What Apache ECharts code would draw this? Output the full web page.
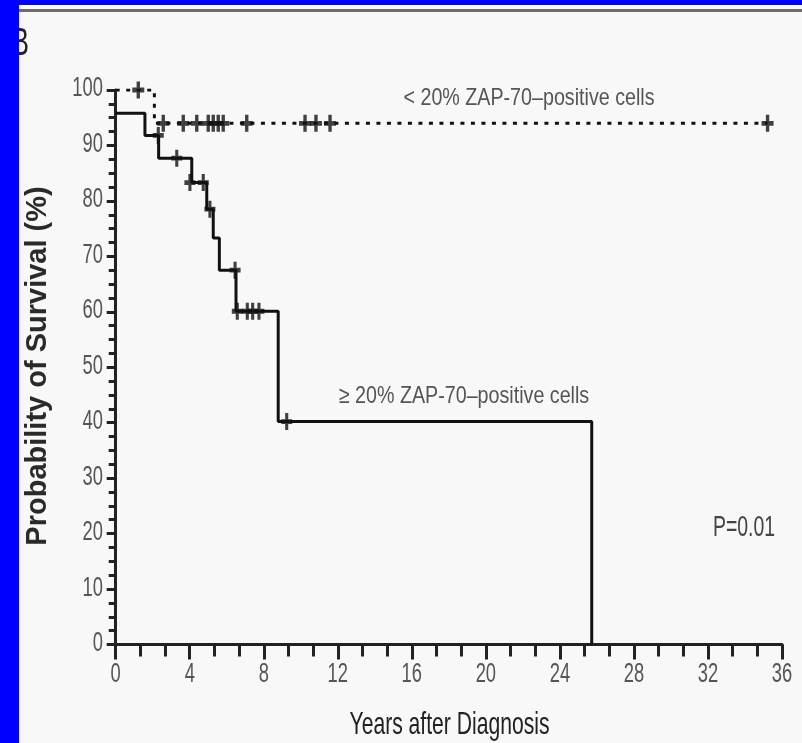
<!DOCTYPE html>
<html>
<head>
<meta charset="utf-8">
<script src="https://cdn.jsdelivr.net/npm/echarts@6/dist/echarts.min.js"></script>
<style>
html,body{margin:0;padding:0;background:#f8f8f8;}
#chart{width:802px;height:743px;}
</style>
</head>
<body>
<div id="chart"></div>
<script>
// ---- data ----
// >=20% ZAP-70-positive cells: event times (years) and survival level after each time (%)
var highTimes = [0, 1.58, 2.32, 4.11, 4.92, 5.27, 5.60, 6.50, 8.78, 25.72];
var highSurv  = [95.8, 91.8, 87.7, 83.3, 78.5, 73.3, 67.5, 60.1, 40.2, 0];
// censored observations (years, %)
var highCensX = [2.30, 3.30, 4.01, 4.73, 5.09, 6.45, 6.57, 7.11, 7.40, 7.74, 9.24];
var highCensY = [91.8, 87.7, 83.3, 83.3, 78.5, 67.5, 60.1, 60.1, 60.1, 60.1, 40.2];

// <20% ZAP-70-positive cells
var lowTimes = [0, 2.09];
var lowSurv  = [100, 94.0];
var lowEnd   = 35.22;
var lowCensX = [1.22, 2.57, 3.65, 4.38, 5.00, 5.27, 5.54, 5.81, 7.08, 10.23, 10.82, 11.58, 35.22];
var lowCensY = [100, 94.0, 94.0, 94.0, 94.0, 94.0, 94.0, 94.0, 94.0, 94.0, 94.0, 94.0, 94.0];

var xTicks = [0, 4, 8, 12, 16, 20, 24, 28, 32, 36];
var yTicks = [0, 10, 20, 30, 40, 50, 60, 70, 80, 90, 100];

// ---- build step curves ----
function stepPoints(times, surv, endT) {
  var pts = [];
  for (var i = 0; i < times.length; i++) {
    if (i > 0) pts.push([times[i], surv[i - 1]]);
    pts.push([times[i], surv[i]]);
  }
  if (endT !== undefined) pts.push([endT, surv[surv.length - 1]]);
  return pts;
}
function zip(a, b) { return a.map(function (v, i) { return [v, b[i]]; }); }

var highLine = stepPoints(highTimes, highSurv);
var lowLine = stepPoints(lowTimes, lowSurv, lowEnd);

var plusPath = 'path://M0,3.6H10V6.4H0Z M3.6,0H6.4V10H3.6Z';
var FF = "'Liberation Sans',Arial,sans-serif";

var chart = echarts.init(document.getElementById('chart'), null, {renderer: 'canvas'});
chart.setOption({
  backgroundColor: '#f8f8f8',
  animation: false,
  grid: {left: 115.7, right: 20, top: 90, bottom: 98.5},
  xAxis: {
    type: 'value', min: xTicks[0], max: xTicks[xTicks.length - 1], interval: 4,
    axisLine: {show: true, onZero: false, lineStyle: {color: '#222', width: 3}},
    axisTick: {show: true, length: 15, lineStyle: {color: '#222', width: 3}},
    minorTick: {show: true, splitNumber: 3, length: 12, lineStyle: {color: '#222', width: 3}},
    splitLine: {show: false},
    axisLabel: {show: false}
  },
  yAxis: {
    type: 'value', min: yTicks[0], max: yTicks[yTicks.length - 1], interval: 10,
    axisLine: {show: true, lineStyle: {color: '#222', width: 3}},
    axisTick: {show: true, length: 9, lineStyle: {color: '#222', width: 3}},
    minorTick: {show: true, splitNumber: 4, length: 7, lineStyle: {color: '#222', width: 3}},
    splitLine: {show: false},
    axisLabel: {show: false}
  },
  series: [
    {
      name: '< 20% ZAP-70–positive cells', type: 'line', data: lowLine,
      showSymbol: false, symbol: 'none', z: 3,
      lineStyle: {color: '#111', width: 3, type: [4, 6.5], cap: 'butt'}
    },
    {
      name: '≥ 20% ZAP-70–positive cells', type: 'line', data: highLine,
      showSymbol: false, symbol: 'none', z: 3,
      lineStyle: {color: '#111', width: 3}
    },
    {
      type: 'scatter', data: zip(lowCensX, lowCensY), symbol: plusPath, symbolSize: [12, 17],
      itemStyle: {color: '#111'}, z: 4
    },
    {
      type: 'scatter', data: zip(highCensX, highCensY), symbol: plusPath, symbolSize: [11, 17],
      itemStyle: {color: '#111'}, z: 4
    }
  ]
});

// tick labels placed through the axes' own scales, condensed like the original typeface
var g = [];
yTicks.forEach(function (v) {
  var py = chart.convertToPixel({yAxisIndex: 0}, v);
  g.push({type: 'text', x: 103, y: py - 1, scaleX: 0.68, z: 10, silent: true,
    style: {text: String(v), align: 'right', verticalAlign: 'middle', font: '27px ' + FF, fill: '#555'}});
});
xTicks.forEach(function (v) {
  var px = chart.convertToPixel({xAxisIndex: 0}, v);
  g.push({type: 'text', x: px, y: 675, scaleX: 0.68, z: 10, silent: true,
    style: {text: String(v), align: 'center', verticalAlign: 'middle', font: '27px ' + FF, fill: '#555'}});
});
// axis titles
g.push({type: 'text', x: 449.5, y: 725, scaleX: 0.66, z: 10, silent: true,
  style: {text: 'Years after Diagnosis', align: 'center', verticalAlign: 'middle', font: '32px ' + FF, fill: '#222'}});
g.push({type: 'text', x: 38, y: 366, rotation: Math.PI / 2, z: 10, silent: true,
  style: {text: 'Probability of Survival (%)', align: 'center', verticalAlign: 'middle', font: 'bold 29px ' + FF, fill: '#2a2a2a'}});
// annotations
g.push({type: 'text', x: 529, y: 98, scaleX: 0.82, z: 10, silent: true,
  style: {text: '< 20% ZAP-70–positive cells', align: 'center', verticalAlign: 'middle', font: '24px ' + FF, fill: '#555'}});
g.push({type: 'text', x: 464, y: 396, scaleX: 0.82, z: 10, silent: true,
  style: {text: '≥ 20% ZAP-70–positive cells', align: 'center', verticalAlign: 'middle', font: '24px ' + FF, fill: '#555'}});
g.push({type: 'text', x: 744, y: 528, scaleX: 0.67, z: 10, silent: true,
  style: {text: 'P=0.01', align: 'center', verticalAlign: 'middle', font: '29px ' + FF, fill: '#444'}});
g.push({type: 'text', x: 29, y: 44, scaleX: 0.66, z: 10, silent: true,
  style: {text: 'B', align: 'right', verticalAlign: 'middle', font: '39px ' + FF, fill: '#222'}});
// frame of the original page
g.push({type: 'rect', shape: {x: 0, y: 0, width: 802, height: 5}, style: {fill: '#0000ff'}, z: 20, silent: true});
g.push({type: 'rect', shape: {x: 0, y: 0, width: 19, height: 743}, style: {fill: '#0000ff'}, z: 20, silent: true});
g.push({type: 'rect', shape: {x: 19, y: 9, width: 783, height: 3}, style: {fill: '#6b6b6b'}, z: 20, silent: true});
chart.setOption({graphic: g});
</script>
</body>
</html>
